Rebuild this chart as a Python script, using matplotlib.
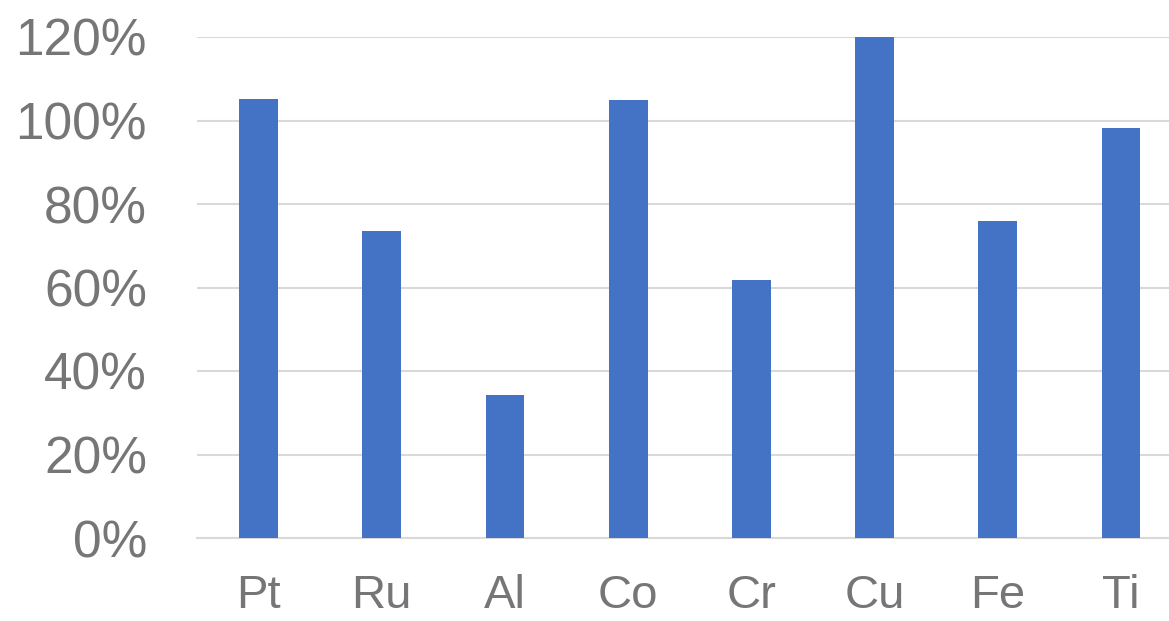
import matplotlib.pyplot as plt
from matplotlib.ticker import FuncFormatter

metals = ["Pt", "Ru", "Al", "Co", "Cr", "Cu", "Fe", "Ti"]
ratio_pct = [105.1, 73.5, 34.3, 104.9, 61.8, 120.0, 75.9, 98.2]
y_ticks = [0, 20, 40, 60, 80, 100, 120]

BAR_COLOR = "#4472C4"
TEXT_COLOR = "#767676"
GRID_COLOR = "#d9d9d9"


def main():
    plt.rcParams["font.family"] = ["Liberation Sans", "DejaVu Sans"]
    fig = plt.figure(figsize=(11.69, 6.21), dpi=100)
    # axes run slightly past the right edge of the figure
    ax = fig.add_axes([197 / 1169, 1 - 538 / 621, 985.6 / 1169, 501 / 621])

    x = range(len(metals))
    ax.bar(x, ratio_pct, width=0.315, color=BAR_COLOR, zorder=3)

    ax.set_xlim(-0.5, len(metals) - 0.5)
    ax.set_ylim(0, 120)
    ax.set_yticks(y_ticks)
    ax.yaxis.set_major_formatter(FuncFormatter(lambda v, _: f"{v:.0f}%"))
    ax.set_xticks(list(x))
    ax.set_xticklabels(metals)

    ax.grid(axis="y", color=GRID_COLOR, linewidth=1.5, zorder=0)
    ax.set_axisbelow(True)
    for side in ["top", "right", "left"]:
        ax.spines[side].set_visible(False)
    ax.spines["bottom"].set_color(GRID_COLOR)
    ax.spines["bottom"].set_linewidth(1.5)

    ax.tick_params(axis="y", length=0, pad=36, labelsize=37, labelcolor=TEXT_COLOR)
    ax.tick_params(axis="x", length=0, pad=26, labelsize=34, labelcolor=TEXT_COLOR)

    fig.savefig("out.png", dpi=100)


if __name__ == "__main__":
    main()
